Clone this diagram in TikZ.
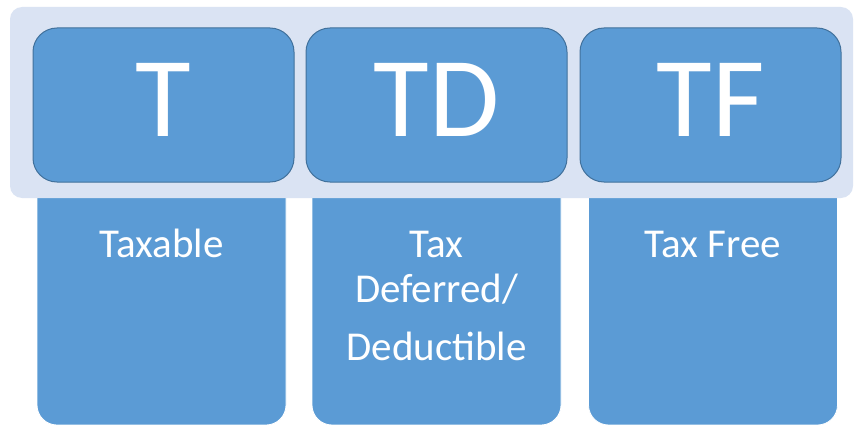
\documentclass[tikz,border=0pt]{standalone}
\usepackage{fontspec}
\setmainfont{Carlito}
\definecolor{bandfill}{HTML}{DAE3F3}
\definecolor{boxfill}{HTML}{5B9BD5}
\definecolor{boxedge}{HTML}{41719C}
\begin{document}
\begin{tikzpicture}[x=1pt,y=-1pt,
  band/.style={fill=bandfill, rounded corners=12pt, inner sep=0pt, outer sep=0pt},
  headbox/.style={draw=boxedge, fill=boxfill, line width=1pt, rounded corners=24pt,
    minimum width=261pt, minimum height=154pt, inner sep=0pt, outer sep=0pt},
  lowbox/.style={draw=white, fill=boxfill, line width=0.8pt, rounded corners=20pt,
    minimum width=249pt, minimum height=265pt, inner sep=0pt, outer sep=0pt},
  bigletter/.style={text=white, anchor=base, inner sep=0pt, font=\fontsize{114}{114}\selectfont},
  label/.style={text=white, anchor=base, inner sep=0pt, font=\fontsize{41}{41}\selectfont}]
\useasboundingbox (0,0) rectangle (854,425);
% lower columns (their tops sit behind the band)
\node[lowbox] (lowT)  at (161.5,292.5) {};
\node[lowbox] (lowTD) at (436.5,292.5) {};
\node[lowbox] (lowTF) at (713,292.5) {};
% light band behind the headings
\node[band, minimum width=843pt, minimum height=191pt] (bandbg) at (431.5,102.5) {};
% heading boxes
\node[headbox] (headT)  at (163.5,105) {};
\node[headbox] (headTD) at (436.5,105) {};
\node[headbox] (headTF) at (710.5,105) {};
\node[bigletter] (letT)  at (163.5,136) {T};
\node[bigletter] (letTD) at (436.5,136) {TD};
\node[bigletter] (letTF) at (710.5,136) {TF};
% column labels
\node[label] (txtT)   at (161.5,257) {Taxable};
\node[label] (txtTD1) at (436.5,257) {Tax};
\node[label] (txtTD2) at (436.5,302) {Deferred/};
\node[label] (txtTD3) at (436.5,360) {Deductible};
\node[label] (txtTF)  at (713,257) {Tax Free};
\end{tikzpicture}
\end{document}
